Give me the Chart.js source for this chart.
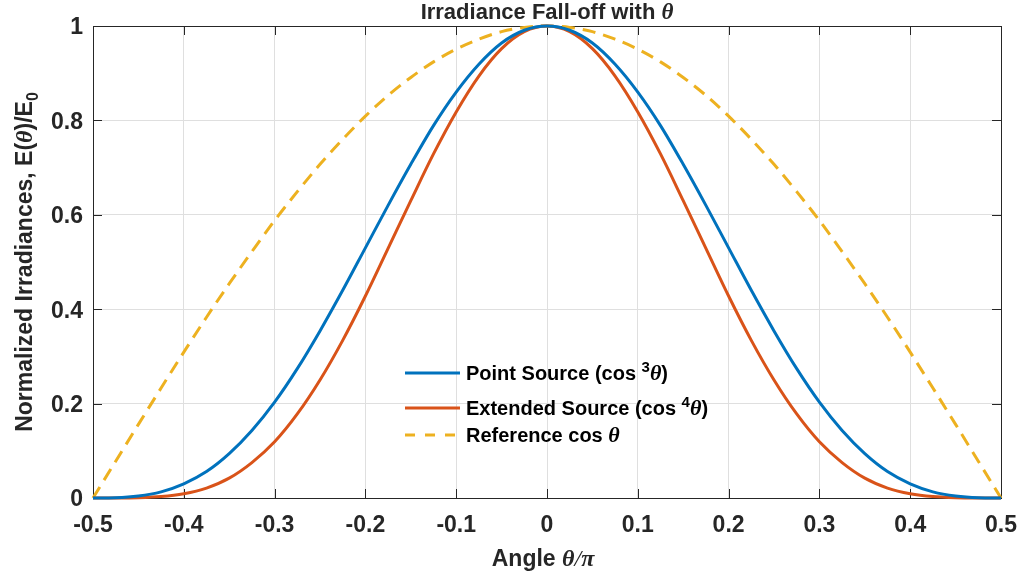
<!DOCTYPE html>
<html>
<head>
<meta charset="utf-8">
<script src="https://cdn.jsdelivr.net/npm/chart.js@4.4.0/dist/chart.umd.min.js"></script>
<style>
  html, body { margin: 0; padding: 0; background: #fff; }
</style>
</head>
<body>
<canvas id="myChart" width="1023" height="577"></canvas>
<script>
// angle as a fraction of pi
const angles = [
  -0.5, -0.475, -0.45, -0.425, -0.4, -0.375, -0.35, -0.325, -0.3, -0.275,
  -0.25, -0.225, -0.2, -0.175, -0.15, -0.125, -0.1, -0.075, -0.05, -0.025,
  0,
  0.025, 0.05, 0.075, 0.1, 0.125, 0.15, 0.175, 0.2, 0.225, 0.25,
  0.275, 0.3, 0.325, 0.35, 0.375, 0.4, 0.425, 0.45, 0.475, 0.5
];

// point source, cos^3
const pointSource = [
  0, 0.0005, 0.004, 0.013, 0.030, 0.056, 0.094, 0.143, 0.203, 0.274,
  0.354, 0.440, 0.530, 0.620, 0.707, 0.789, 0.860, 0.919, 0.964, 0.991,
  1,
  0.991, 0.964, 0.919, 0.860, 0.789, 0.707, 0.620, 0.530, 0.440, 0.354,
  0.274, 0.203, 0.143, 0.094, 0.056, 0.030, 0.013, 0.004, 0.0005, 0
];

// extended source, cos^4
const extendedSource = [
  0, 0.00004, 0.0006, 0.003, 0.009, 0.021, 0.042, 0.075, 0.119, 0.178,
  0.250, 0.334, 0.428, 0.529, 0.630, 0.729, 0.818, 0.894, 0.952, 0.988,
  1,
  0.988, 0.952, 0.894, 0.818, 0.729, 0.630, 0.529, 0.428, 0.334, 0.250,
  0.178, 0.119, 0.075, 0.042, 0.021, 0.009, 0.003, 0.0006, 0.00004, 0
];

// reference cos
const referenceCos = [
  0, 0.078, 0.156, 0.233, 0.309, 0.383, 0.454, 0.522, 0.588, 0.649,
  0.707, 0.760, 0.809, 0.853, 0.891, 0.924, 0.951, 0.972, 0.988, 0.997,
  1,
  0.997, 0.988, 0.972, 0.951, 0.924, 0.891, 0.853, 0.809, 0.760, 0.707,
  0.649, 0.588, 0.522, 0.454, 0.383, 0.309, 0.233, 0.156, 0.078, 0
];

const xTicks = [-0.5, -0.4, -0.3, -0.2, -0.1, 0, 0.1, 0.2, 0.3, 0.4, 0.5];
const yTicks = [0, 0.2, 0.4, 0.6, 0.8, 1];

const BLUE = '#0072BD';
const ORANGE = '#D95319';
const YELLOW = '#EDB120';
const INK = '#262626';

const SANS = '"Liberation Sans", Arial, Helvetica, sans-serif';
const SERIF = '"Liberation Serif", "Times New Roman", serif';

function pts(ys) {
  return angles.map((a, i) => ({ x: a, y: ys[i] }));
}

function fmt(v) {
  const r = Math.round(v * 10) / 10;
  if (r === 0) return '0';
  if (r === 1) return '1';
  return String(r);
}

// draws a run of text pieces with their own fonts, one after another
function drawRich(ctx, parts, x, y, align) {
  let total = 0;
  parts.forEach(p => { ctx.font = p.f; total += ctx.measureText(p.t).width; });
  let cx = align === 'center' ? x - total / 2 : x;
  ctx.textAlign = 'left';
  ctx.textBaseline = 'alphabetic';
  parts.forEach(p => {
    ctx.font = p.f;
    ctx.fillText(p.t, cx, y + (p.dy || 0));
    cx += ctx.measureText(p.t).width;
  });
}

const frame = {
  id: 'frame',
  beforeDatasetsDraw(chart) {
    const { ctx, chartArea: a, scales } = chart;
    ctx.save();
    ctx.strokeStyle = INK;
    ctx.lineWidth = 1;
    ctx.beginPath();
    // inward ticks on all four sides
    xTicks.forEach(v => {
      const px = Math.round(scales.x.getPixelForValue(v)) + 0.5;
      ctx.moveTo(px, a.bottom); ctx.lineTo(px, a.bottom - 9);
      ctx.moveTo(px, a.top); ctx.lineTo(px, a.top + 9);
    });
    yTicks.forEach(v => {
      const py = Math.round(scales.y.getPixelForValue(v)) + 0.5;
      ctx.moveTo(a.left, py); ctx.lineTo(a.left + 9, py);
      ctx.moveTo(a.right, py); ctx.lineTo(a.right - 9, py);
    });
    ctx.stroke();
    ctx.strokeRect(Math.round(a.left) + 0.5, Math.round(a.top) + 0.5,
      Math.round(a.right - a.left), Math.round(a.bottom - a.top));
    ctx.restore();
  },
  afterDraw(chart) {
    const { ctx, chartArea: a } = chart;
    const cx = (a.left + a.right) / 2;
    ctx.save();
    ctx.fillStyle = INK;

    // title
    drawRich(ctx, [
      { t: 'Irradiance Fall-off with ', f: 'bold 22px ' + SANS },
      { t: 'θ', f: 'italic bold 23px ' + SERIF }
    ], cx, 19, 'center');

    // x label
    drawRich(ctx, [
      { t: 'Angle ', f: 'bold 23px ' + SANS },
      { t: 'θ', f: 'italic bold 24px ' + SERIF },
      { t: '/', f: 'italic 24px ' + SERIF },
      { t: 'π', f: 'italic bold 24px ' + SERIF }
    ], cx - 4, 566, 'center');

    // y label
    ctx.save();
    ctx.translate(32, (a.top + a.bottom) / 2);
    ctx.rotate(-Math.PI / 2);
    drawRich(ctx, [
      { t: 'Normalized Irradiances, E(', f: 'bold 23px ' + SANS },
      { t: 'θ', f: 'italic bold 24px ' + SERIF },
      { t: ')/E', f: 'bold 23px ' + SANS },
      { t: '0', f: 'bold 16px ' + SANS, dy: 6 }
    ], 0, 0, 'center');
    ctx.restore();

    // legend
    const rows = [
      { y: 373, color: BLUE, dash: [], parts: [
        { t: 'Point Source (cos ', f: 'bold 20px ' + SANS },
        { t: '3', f: 'bold 15px ' + SANS, dy: -8 },
        { t: 'θ', f: 'italic bold 22px ' + SERIF },
        { t: ')', f: 'bold 20px ' + SANS }
      ] },
      { y: 408, color: ORANGE, dash: [], parts: [
        { t: 'Extended Source (cos ', f: 'bold 20px ' + SANS },
        { t: '4', f: 'bold 15px ' + SANS, dy: -8 },
        { t: 'θ', f: 'italic bold 22px ' + SERIF },
        { t: ')', f: 'bold 20px ' + SANS }
      ] },
      { y: 435, color: YELLOW, dash: [10, 10], parts: [
        { t: 'Reference cos ', f: 'bold 20px ' + SANS },
        { t: 'θ', f: 'italic bold 22px ' + SERIF }
      ] }
    ];
    rows.forEach(r => {
      ctx.save();
      ctx.strokeStyle = r.color;
      ctx.lineWidth = 3;
      ctx.setLineDash(r.dash);
      ctx.beginPath();
      ctx.moveTo(405, r.y); ctx.lineTo(460, r.y);
      ctx.stroke();
      ctx.restore();
      ctx.fillStyle = '#000';
      drawRich(ctx, r.parts, 466, r.y + 7, 'left');
    });
    ctx.restore();
  }
};

const data = {
  datasets: [
    {
      label: 'Point Source',
      data: pts(pointSource),
      borderColor: BLUE,
      borderWidth: 3,
      pointRadius: 0,
      cubicInterpolationMode: 'monotone',
      clip: 6
    },
    {
      label: 'Extended Source',
      data: pts(extendedSource),
      borderColor: ORANGE,
      borderWidth: 3,
      pointRadius: 0,
      cubicInterpolationMode: 'monotone',
      clip: 6
    },
    {
      label: 'Reference cos',
      data: pts(referenceCos),
      borderColor: YELLOW,
      borderWidth: 3,
      borderDash: [13, 8],
      pointRadius: 0,
      cubicInterpolationMode: 'monotone',
      clip: 6
    }
  ]
};

const config = {
  type: 'line',
  data: data,
  options: {
    responsive: false,
    animation: false,
    layout: { padding: { top: 26, right: 22, left: 0, bottom: 0 } },
    plugins: {
      legend: { display: false },
      title: { display: false },
      tooltip: { enabled: false }
    },
    scales: {
      x: {
        type: 'linear',
        min: -0.5,
        max: 0.5,
        afterBuildTicks: s => { s.ticks = xTicks.map(v => ({ value: v })); },
        afterFit: s => { s.height = 79; s.paddingLeft = 0; s.paddingRight = 0; },
        ticks: {
          callback: fmt,
          color: INK,
          font: { family: SANS, size: 23, weight: 'bold' },
          padding: 14,
          maxRotation: 0
        },
        grid: { color: '#dfdfdf', drawTicks: false },
        border: { display: false }
      },
      y: {
        min: 0,
        max: 1,
        afterBuildTicks: s => { s.ticks = yTicks.map(v => ({ value: v })); },
        afterFit: s => { s.width = 93; s.paddingTop = 0; s.paddingBottom = 0; },
        ticks: {
          callback: fmt,
          color: INK,
          font: { family: SANS, size: 23, weight: 'bold' },
          padding: 10,
          labelOffset: 2
        },
        grid: { color: '#dfdfdf', drawTicks: false },
        border: { display: false }
      }
    }
  },
  plugins: [frame]
};

const myChart = new Chart(document.getElementById('myChart'), config);
</script>
</body>
</html>
